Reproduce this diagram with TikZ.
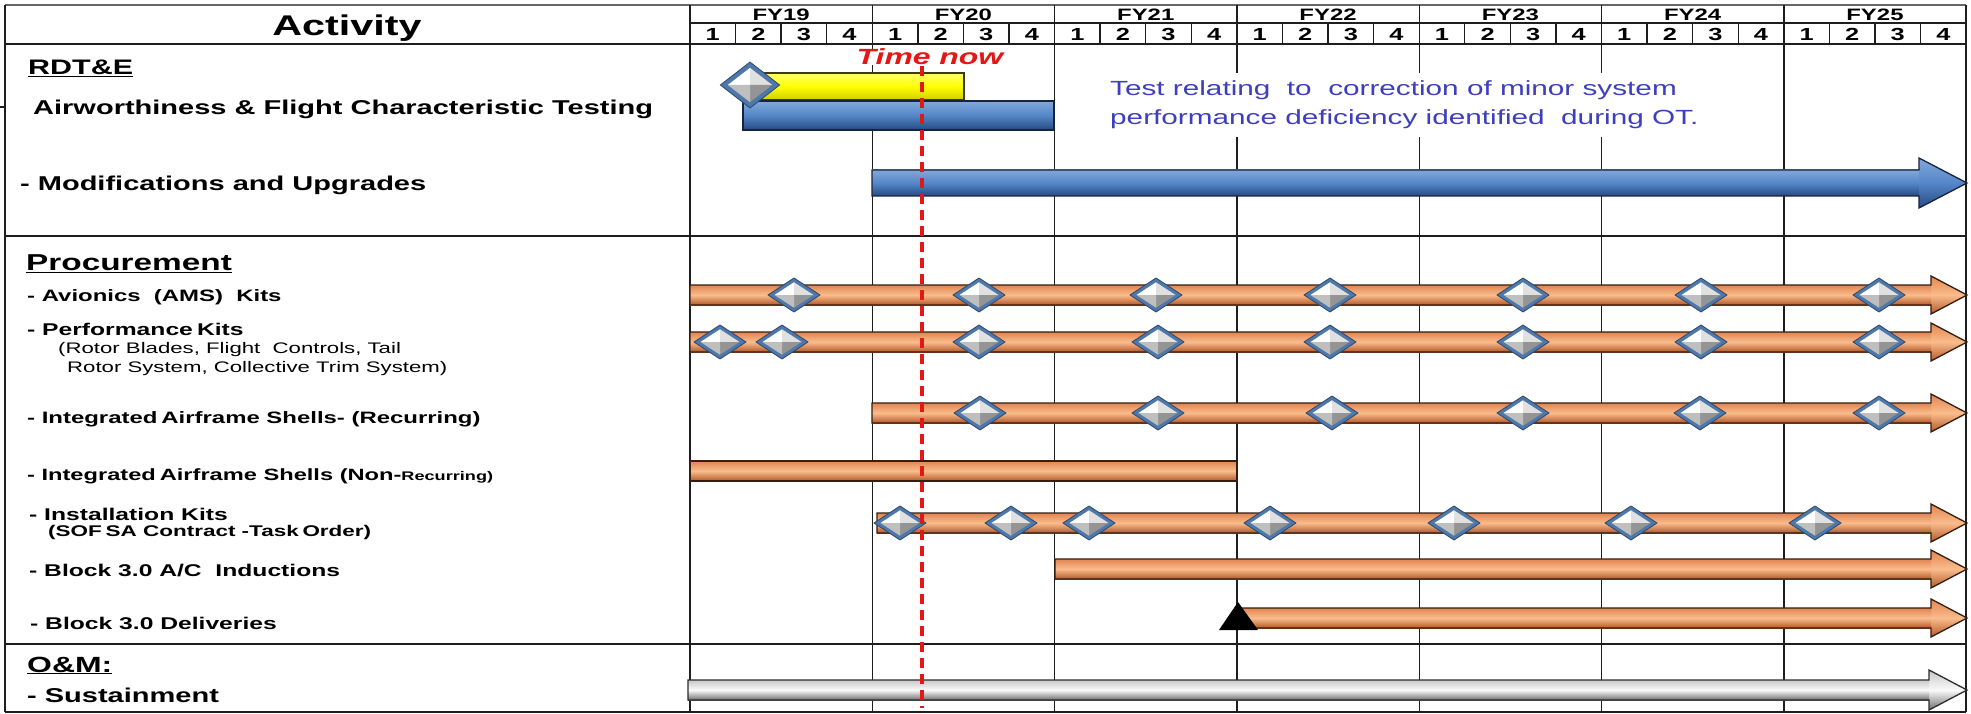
\documentclass[tikz,border=0pt]{standalone}
\usepackage{fontspec}
\setmainfont{Liberation Sans}
\usepackage{graphicx}
\usetikzlibrary{calc}

\newcommand{\sx}[1]{\scalebox{1.45}[1]{#1}}
\newcommand{\fsz}[1]{\fontsize{#1}{#1}\selectfont}

\definecolor{gridc}{RGB}{30,30,30}
\definecolor{orT}{RGB}{226,132,80}
\definecolor{orM}{RGB}{250,188,140}
\definecolor{orB}{RGB}{180,88,40}
\definecolor{orL}{RGB}{50,30,18}
\definecolor{blT}{RGB}{130,168,218}
\definecolor{blM}{RGB}{84,134,200}
\definecolor{blB}{RGB}{38,74,132}
\definecolor{blL}{RGB}{22,36,64}
\definecolor{grT}{RGB}{200,200,200}
\definecolor{grM}{RGB}{250,250,250}
\definecolor{grB}{RGB}{110,110,110}
\definecolor{grL}{RGB}{45,45,45}
\definecolor{ylT}{RGB}{255,255,110}
\definecolor{ylM}{RGB}{255,255,0}
\definecolor{ylB}{RGB}{205,205,0}
\definecolor{ylL}{RGB}{60,60,20}
\definecolor{diaB}{RGB}{78,120,170}
\definecolor{diaL}{RGB}{45,72,110}
\definecolor{noteC}{RGB}{62,62,190}
\definecolor{nowC}{RGB}{228,22,22}

% #1 colour prefix, #2 x start, #3 x tip, #4 y, #5 shaft half, #6 head half, #7 head length
\newcommand{\ganttarrow}[7]{%
  \path[top color=#1T, bottom color=#1B, middle color=#1M]
    (#3-#7,#4-#6) -- (#3,#4) -- (#3-#7,#4+#6) -- cycle;
  \path[top color=#1T, bottom color=#1B, middle color=#1M]
    (#2,#4-#5) rectangle (#3-#7,#4+#5);
  \draw[#1L, line width=1.3pt, line join=miter]
    (#2,#4-#5) -- (#3-#7,#4-#5) -- (#3-#7,#4-#6) -- (#3,#4) --
    (#3-#7,#4+#6) -- (#3-#7,#4+#5) -- (#2,#4+#5) -- cycle;}
% plain bar: #1 prefix, #2 x1, #3 x2, #4 y top, #5 y bottom
\newcommand{\ganttbar}[5]{%
  \path[top color=#1T, bottom color=#1B, middle color=#1M, draw=#1L, line width=1.3pt]
    (#2,#4) rectangle (#3,#5);}

\tikzset{
  dia/.pic={
    \path[fill=diaB, draw=diaL, line width=0.8pt] (-26,0) -- (0,-17) -- (26,0) -- (0,17) -- cycle;
    \fill[white] (-19.5,0) -- (0,-12.7) -- (0,0) -- cycle;
    \fill[black!12] (0,-12.7) -- (19.5,0) -- (0,0) -- cycle;
    \fill[black!42] (19.5,0) -- (0,12.7) -- (0,0) -- cycle;
    \fill[black!25] (0,12.7) -- (-19.5,0) -- (0,0) -- cycle;
  },
  lbl/.style={anchor=west, inner sep=0pt, font=\bfseries},
  gline/.style={draw=gridc, line width=1.4pt},
  sline/.style={draw=gridc, line width=2.8pt},
}

\begin{document}
\begin{tikzpicture}[x=1pt, y=-1pt]
\useasboundingbox (0,0) rectangle (1971,714);
\fill[white] (0,0) rectangle (1971,714);

% ---------- grid ----------
\draw[gline, draw=black!60] (5,5) -- (1966,5);
\draw[gline] (690,23) -- (1966,23);
\draw[sline, line width=2pt] (5,44) -- (1966,44);
\draw[sline] (5,236) -- (1966,236);
\draw[sline] (5,644) -- (1966,644);
\draw[sline, line width=2pt] (5,712) -- (1966,712);
\draw[gline, line width=2pt] (5,5) -- (5,712);
\draw[gline, line width=2pt] (690,5) -- (690,712);
\draw[gline, line width=2pt] (1966,5) -- (1966,712);
\draw[gline] (0,107) -- (5,107);
\foreach \k in {1,...,6} {
  \draw[gline] (690+182.3*\k,5) -- (690+182.3*\k,712);
}
\foreach \k in {0,...,6} {
  \foreach \q in {1,2,3} {
    \draw[gline] (690+182.3*\k+45.575*\q,23) -- (690+182.3*\k+45.575*\q,44);
  }
}

% ---------- header ----------
\node[font=\bfseries\fsz{28.5}, inner sep=0pt] (act) at (347,28) {\sx{Activity}};
\foreach \y [count=\i from 0] in {19,...,25} {
  \node[font=\bfseries\fsz{16.5}, inner sep=0pt] (fy\y) at (690+182.3*\i+91.15,14.5) {\sx{FY\y}};
  \foreach \q in {1,...,4} {
    \node[font=\bfseries\fsz{17.5}, inner sep=0pt] (q\y-\q) at (690+182.3*\i+45.575*\q-22.79,34.5) {\sx{\q}};
  }
}

% ---------- left labels ----------
\node[lbl, font=\bfseries\fsz{21}] (rdte) at (28,68) {\sx{\underline{RDT\&E}}};
\node[lbl, font=\bfseries\fsz{20}] (airw) at (33,109) {\sx{Airworthiness \& Flight Characteristic Testing}};
\node[lbl, font=\bfseries\fsz{20}] (mods) at (20,185.5) {\sx{- Modifications and Upgrades}};
\node[lbl, font=\bfseries\fsz{23}] (proc) at (26,263.5) {\sx{\underline{Procurement}}};
\node[lbl, font=\bfseries\fsz{16.5}] (avio) at (27,297.5) {\sx{-\ Avionics\ \ (AMS)\ \ Kits}};
\node[lbl, font=\bfseries\fsz{17}] (perf) at (27,329.5) {\sx{- Performance\,Kits}};
\node[lbl, font=\fsz{15.3}] (perf1) at (58,350) {\sx{(Rotor Blades, Flight\ \ Controls, Tail}};
\node[lbl, font=\fsz{15.3}] (perf2) at (67,369) {\sx{Rotor System, Collective Trim System)}};
\node[lbl, font=\bfseries\fsz{16.5}] (iasr) at (27,419) {\sx{- Integrated\,Airframe Shells- (Recurring)}};
\node[lbl, font=\bfseries\fsz{16.3}] (iasn) at (27,476) {\sx{- Integrated\,Airframe Shells (Non-{\fsz{12.5}Recurring)}}};
\node[lbl, font=\bfseries\fsz{17}] (inst) at (29,514) {\sx{- Installation Kits}};
\node[lbl, font=\bfseries\fsz{15.5}] (inst1) at (48,532) {\sx{(SOF\,SA Contract -Task\,Order)}};
\node[lbl, font=\bfseries\fsz{17}] (indu) at (29,571) {\sx{- Block 3.0 A/C\ \ Inductions}};
\node[lbl, font=\bfseries\fsz{17}] (deli) at (30,623) {\sx{- Block 3.0 Deliveries}};
\node[lbl, font=\bfseries\fsz{22}] (om) at (27,665.5) {\sx{\underline{O\&M:}}};
\node[lbl, font=\bfseries\fsz{20}] (sust) at (27,695) {\sx{- Sustainment}};

% ---------- note ----------
\node[fill=white, anchor=west, align=left, inner xsep=4pt, inner ysep=8pt,
      text=noteC, font=\fontsize{20.5}{29}\selectfont] (note) at (1106,105)
  {\sx{Test relating\ \ to\ \ correction\ of\ minor\ system}\\
   \sx{performance deficiency identified\ \ during OT.}};

% ---------- RDT&E bars ----------
\ganttbar{yl}{750}{964}{73}{100}
\ganttbar{bl}{743}{1054}{101}{130}
\pic[xscale=1.14, yscale=1.35] at (750,85) {dia};
\ganttarrow{bl}{872}{1967}{183}{13}{25}{48}

% ---------- Procurement bars ----------
\ganttarrow{or}{690}{1967}{295}{10}{19}{36}
\foreach \x in {794,979,1156,1330,1523,1701,1879} { \pic at (\x,295) {dia}; }

\ganttarrow{or}{690}{1967}{342}{10}{19}{36}
\foreach \x in {720,782,979,1158,1330,1523,1701,1879} { \pic at (\x,342) {dia}; }

\ganttarrow{or}{872}{1967}{413}{10}{19}{36}
\foreach \x in {980,1158,1332,1523,1700,1879} { \pic at (\x,413) {dia}; }

\ganttbar{or}{690}{1237}{461}{481}

\ganttarrow{or}{877}{1967}{523}{10}{19}{36}
\foreach \x in {900,1011,1089,1270,1454,1631,1815} { \pic at (\x,523) {dia}; }

\ganttarrow{or}{1055}{1967}{569}{10}{19}{36}

\ganttarrow{or}{1240}{1967}{618}{10}{19}{36}
\fill[black] (1238,602) -- (1258,630) -- (1219,630) -- cycle;

% ---------- O&M ----------
\ganttarrow{gr}{688}{1967}{690}{10}{20}{38}

% ---------- time now ----------
\node[fill=white, inner sep=0pt, text=nowC, font=\bfseries\itshape\fsz{22}] (now) at (930,57) {\sx{Time now}};
\coordinate (nowtop) at (922,66);
\coordinate (nowbot) at (922,708);
\draw[nowC, line width=3.5pt, dash pattern=on 10pt off 6pt] (nowtop) -- (nowbot);
\end{tikzpicture}
\end{document}
